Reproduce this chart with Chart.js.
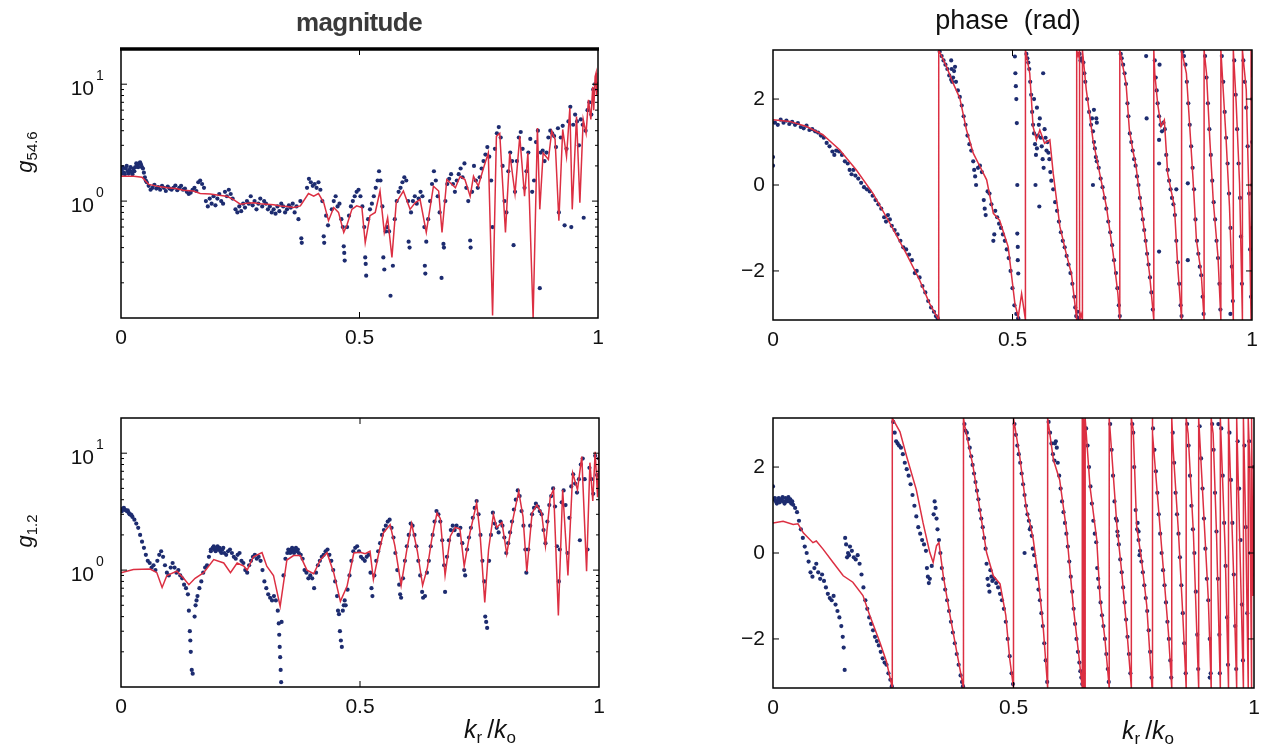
<!DOCTYPE html>
<html><head><meta charset="utf-8">
<script src="https://cdn.jsdelivr.net/npm/chart.js@4.4.1/dist/chart.umd.min.js"></script>
<style>
html,body{margin:0;padding:0;background:#fff;width:1270px;height:750px;overflow:hidden;font-family:"Liberation Sans",Arial,sans-serif;}
canvas{position:absolute;}
.t{position:absolute;white-space:nowrap;color:#111;line-height:1;}
.t sub{font-size:0.68em;vertical-align:-0.32em;line-height:0;}
.rot{transform:translate(-50%,-50%) rotate(-90deg);}
</style></head><body>
<canvas id="c1"></canvas><canvas id="c2"></canvas><canvas id="c3"></canvas><canvas id="c4"></canvas>
<div class="t" style="left:0;width:718px;text-align:center;top:9px;font-weight:bold;font-size:26px;color:#3a3a3a;letter-spacing:-0.6px">magnitude</div>
<div class="t" style="left:766px;width:484px;text-align:center;top:7px;font-size:27px">phase&nbsp;&nbsp;(rad)</div>
<div class="t rot" style="left:25px;top:152px;font-size:22px"><i>g</i><sub>54.6</sub></div>
<div class="t rot" style="left:25px;top:531px;font-size:22px"><i>g</i><sub>1.2</sub></div>
<div class="t" style="left:490px;top:729px;transform:translate(-50%,-50%);font-size:25px"><i>k</i><sub>r</sub>&thinsp;/<i>k</i><sub>o</sub></div>
<div class="t" style="left:1148px;top:730px;transform:translate(-50%,-50%);font-size:25px"><i>k</i><sub>r</sub>&thinsp;/<i>k</i><sub>o</sub></div>
<script>
// ---------- data ----------
const X_TICKS = [0, 0.5, 1];
const LOG_MAJOR = [1, 10];
const LOG_MAJOR_LABELS = ['0', '1'];
const LOG_MINOR = [0.2,0.3,0.4,0.5,0.6,0.7,0.8,0.9,2,3,4,5,6,7,8,9];
const PHASE_TICKS = [-2, 0, 2];

const TL_LINE = [[0.000,1.63],[0.027,1.63],[0.044,1.60],[0.058,1.39],[0.080,1.33],[0.097,1.30],[0.115,1.28],[0.131,1.24],[0.152,1.22],[0.166,1.16],[0.187,1.15],[0.205,1.12],[0.222,1.10],[0.236,1.03],[0.250,0.94],[0.264,0.96],[0.278,0.97],[0.292,0.95],[0.306,0.94],[0.320,0.93],[0.334,0.91],[0.348,0.90],[0.362,0.88],[0.376,0.91],[0.393,1.16],[0.404,1.10],[0.414,1.16],[0.425,0.97],[0.435,0.68],[0.446,0.88],[0.456,0.80],[0.467,0.54],[0.474,0.63],[0.484,0.85],[0.494,0.91],[0.505,0.88],[0.512,0.44],[0.522,0.75],[0.533,0.80],[0.543,1.22],[0.552,0.54],[0.559,0.72],[0.568,0.33],[0.577,0.97],[0.592,1.22],[0.606,0.85],[0.617,0.97],[0.627,1.03],[0.640,0.54],[0.655,1.34],[0.666,1.22],[0.673,0.54],[0.683,1.53],[0.701,1.30],[0.711,1.63],[0.721,1.53],[0.732,1.10],[0.739,1.63],[0.749,1.34],[0.760,1.92],[0.770,2.58],[0.779,0.105],[0.787,3.58],[0.794,3.80],[0.806,0.54],[0.815,2.58],[0.826,1.16],[0.836,3.58],[0.846,1.10],[0.853,2.58],[0.864,0.10],[0.873,4.22],[0.878,0.85],[0.885,2.58],[0.896,2.27],[0.903,3.96],[0.910,3.39],[0.918,0.68],[0.926,4.10],[0.934,2.40],[0.941,6.24],[0.946,0.85],[0.955,5.30],[0.962,0.97],[0.969,5.00],[0.975,3.80],[0.980,7.35],[0.985,5.00],[0.989,9.50],[0.991,6.0],[0.994,11.6],[0.996,12.5],[0.997,8.0],[1.000,10.5]];

const TL_DOTS = [[0.000,1.7],[0.004,1.95],[0.008,1.7],[0.012,2.0],[0.016,1.72],[0.020,1.95],[0.024,1.7],[0.028,1.8],[0.032,2.1],[0.036,1.95],[0.040,2.15],[0.044,1.95],[0.048,1.75],[0.052,1.5],
[0.002,1.85],[0.006,1.75],[0.010,1.9],[0.014,1.8],[0.018,1.85],[0.022,1.78],[0.026,1.9],[0.030,1.95],[0.034,2.05],[0.038,2.1],[0.042,2.05],[0.046,1.9],[0.050,1.6],[0.054,1.45],[0.058,1.35],[0.062,1.25],[0.066,1.3],[0.070,1.38],[0.074,1.28],[0.078,1.32],[0.082,1.25],[0.086,1.35],[0.090,1.3],[0.094,1.22],[0.098,1.33],[0.102,1.28],[0.106,1.25],[0.110,1.3],[0.114,1.36],[0.118,1.24],[0.122,1.3],[0.126,1.35],[0.130,1.25],[0.134,1.28],[0.138,1.2],[0.142,1.15],[0.146,1.18],[0.150,1.25],[0.154,1.3],[0.158,1.22],[0.162,1.45],[0.166,1.5],[0.170,1.4],[0.174,1.3],[0.178,1.0],[0.182,0.9],[0.186,1.05],[0.190,0.95],[0.194,1.1],[0.198,0.92],[0.202,1.05],[0.206,1.15],[0.210,1.0],[0.214,0.95],[0.218,1.2],[0.222,1.1],[0.226,1.25],[0.230,1.15],[0.234,1.05],[0.240,0.85],[0.244,0.8],[0.248,0.9],[0.252,0.82],[0.256,0.95],[0.260,0.88],[0.264,1.0],[0.268,0.95],[0.272,1.1],[0.276,0.92],[0.280,1.0],[0.284,0.85],[0.288,0.95],[0.292,1.05],[0.296,0.9],[0.300,1.0],[0.304,0.95],[0.308,0.85],[0.312,0.9],[0.316,0.8],[0.320,0.85],[0.324,0.78],[0.328,0.9],[0.332,0.82],[0.336,0.95],[0.340,0.9],[0.344,0.8],[0.348,0.85],[0.352,0.92],[0.356,0.88],[0.360,0.95],[0.364,0.8],[0.368,0.9],[0.372,0.7],[0.376,1.0],[0.378,0.48],[0.379,0.44],[0.390,1.3],[0.394,1.55],[0.398,1.45],[0.402,1.35],[0.406,1.4],[0.410,1.3],[0.414,1.45],[0.418,1.25],[0.422,1.0],[0.425,0.5],[0.426,0.44],[0.430,0.75],[0.434,0.62],[0.442,0.85],[0.446,1.0],[0.450,1.1],[0.454,0.9],[0.458,0.95],[0.462,0.7],[0.465,0.6],[0.467,0.41],[0.468,0.36],[0.469,0.31],[0.474,0.6],[0.478,0.75],[0.482,0.9],[0.486,1.0],[0.490,1.1],[0.494,1.2],[0.498,1.25],[0.502,1.1],[0.506,0.9],[0.510,0.6],[0.512,0.33],[0.513,0.29],[0.514,0.23],[0.518,0.7],[0.522,0.85],[0.526,0.95],[0.530,1.1],[0.534,1.3],[0.538,1.5],[0.541,1.8],[0.544,1.5],[0.548,0.9],[0.550,0.33],[0.552,0.26],[0.555,0.55],[0.558,0.6],[0.562,0.55],[0.565,0.155],[0.570,0.28],[0.574,0.7],[0.578,1.0],[0.582,1.2],[0.586,1.3],[0.590,1.45],[0.594,1.6],[0.598,1.5],[0.602,1.0],[0.603,0.45],[0.605,0.4],[0.608,0.8],[0.612,1.0],[0.616,1.1],[0.620,0.95],[0.624,1.05],[0.628,1.2],[0.632,1.1],[0.636,0.6],[0.637,0.28],[0.638,0.24],[0.640,0.45],[0.644,0.7],[0.648,1.0],[0.652,1.4],[0.656,1.8],[0.660,1.5],[0.664,1.1],[0.668,0.8],[0.672,0.22],[0.676,0.43],[0.677,0.4],[0.680,1.0],[0.684,1.4],[0.688,1.55],[0.692,1.7],[0.696,1.4],[0.700,1.2],[0.704,1.5],[0.708,1.7],[0.712,1.9],[0.716,1.6],[0.720,2.1],[0.724,1.3],[0.728,1.0],[0.732,0.46],[0.733,0.40],[0.736,1.2],[0.740,2.0],[0.744,1.5],[0.748,1.3],[0.752,1.6],[0.756,1.9],[0.760,2.2],[0.764,2.5],[0.768,2.9],[0.772,2.4],[0.776,1.5],[0.779,0.6],[0.784,2.8],[0.788,3.8],[0.792,4.3],[0.796,3.5],[0.800,2.0],[0.804,1.0],[0.808,0.8],[0.812,1.8],[0.816,2.6],[0.820,2.2],[0.823,0.42],[0.826,1.2],[0.830,2.2],[0.834,3.5],[0.838,3.9],[0.842,2.8],[0.846,1.3],[0.850,1.8],[0.854,2.6],[0.858,3.4],[0.862,1.2],[0.866,1.5],[0.870,3.2],[0.874,4.0],[0.878,0.18],[0.880,2.6],[0.884,2.7],[0.888,2.2],[0.892,2.6],[0.896,3.5],[0.900,4.0],[0.904,3.8],[0.908,3.6],[0.912,2.9],[0.916,4.2],[0.918,0.8],[0.922,3.5],[0.926,4.4],[0.930,0.62],[0.934,2.8],[0.938,4.8],[0.942,6.4],[0.944,0.6],[0.948,4.5],[0.952,5.5],[0.956,4.8],[0.960,3.0],[0.964,5.0],[0.968,4.5],[0.970,0.72],[0.974,4.0],[0.978,6.0],[0.982,7.0],[0.986,5.5],[0.990,9.0],[0.994,10],[0.998,9.0]];

const TR_LINE = [[0.000,1.52],[0.035,1.48],[0.070,1.36],[0.104,1.17],[0.139,0.82],[0.174,0.35],[0.209,-0.20],[0.244,-0.89],[0.278,-1.59],[0.306,-2.21],[0.327,-2.76],[0.346,-3.14],[0.346,3.14],[0.362,2.76],[0.376,2.37],[0.390,2.02],[0.404,1.28],[0.418,0.74],[0.432,0.43],[0.446,0.12],[0.460,-0.66],[0.473,-0.82],[0.491,-1.44],[0.505,-2.76],[0.512,-3.07],[0.519,-2.53],[0.527,-3.14],[0.527,3.14],[0.536,2.60],[0.543,1.36],[0.550,1.05],[0.557,1.28],[0.567,0.97],[0.578,1.05],[0.585,0.27],[0.599,-0.97],[0.612,-1.59],[0.623,-2.06],[0.634,-3.14],[0.634,3.14],[0.637,3.0],[0.640,3.14],[0.640,-3.14],[0.643,-3.0],[0.646,-3.14],[0.646,3.14],[0.654,2.22],[0.668,1.05],[0.682,0.27],[0.696,-0.50],[0.710,-1.59],[0.720,-2.53],[0.724,-3.14],[0.724,3.14],[0.737,2.37],[0.744,1.28],[0.751,0.82],[0.758,0.43],[0.765,-0.20],[0.776,-1.13],[0.786,-2.06],[0.795,-3.14],[0.795,3.14],[0.797,2.6],[0.803,1.90],[0.810,1.36],[0.817,1.51],[0.824,0.27],[0.831,-0.12],[0.838,-0.50],[0.845,-1.90],[0.853,-3.14],[0.853,3.14],[0.863,2.60],[0.870,1.36],[0.877,0.12],[0.884,-1.28],[0.894,-2.06],[0.900,-3.14],[0.900,3.14],[0.905,2.60],[0.912,1.05],[0.919,-0.35],[0.929,-1.67],[0.935,-3.14],[0.935,3.14],[0.946,1.05],[0.953,-0.50],[0.961,-3.14],[0.961,3.14],[0.967,1.90],[0.974,0.04],[0.980,-3.14],[0.980,3.14],[0.988,2.22],[0.994,-0.50],[0.998,-3.14],[0.998,3.14],[1.000,2.5]];

const TR_DOTS = [[0.000,0.65],[0.000,0.45],[0.004,1.45],[0.010,1.40],[0.016,1.52],[0.022,1.45],[0.028,1.50],[0.034,1.42],[0.040,1.47],[0.046,1.40],[0.052,1.44],[0.058,1.35],[0.064,1.32],[0.070,1.38],[0.076,1.28],[0.082,1.30],[0.088,1.25],[0.094,1.22],[0.100,1.15],[0.106,1.10],[0.112,0.98],[0.118,0.90],[0.124,0.78],[0.128,0.70],[0.132,0.80],[0.138,0.78],[0.144,0.70],[0.150,0.55],[0.156,0.50],[0.160,0.35],[0.164,0.25],[0.168,0.35],[0.172,0.22],[0.178,0.15],[0.184,0.05],[0.190,-0.05],[0.196,-0.10],[0.202,-0.15],[0.208,-0.25],[0.214,-0.35],[0.220,-0.45],[0.226,-0.55],[0.232,-0.75],[0.236,-0.85],[0.240,-0.70],[0.244,-0.80],[0.248,-0.95],[0.254,-1.05],[0.260,-1.15],[0.266,-1.30],[0.272,-1.45],[0.278,-1.50],[0.284,-1.62],[0.290,-1.75],[0.296,-2.05],[0.300,-2.00],[0.306,-2.15],[0.312,-2.35],[0.318,-2.50],[0.324,-2.70],[0.330,-2.85],[0.336,-2.95],[0.340,-3.05],[0.344,-3.10],
[0.348,3.10],[0.352,3.0],[0.356,2.9],[0.360,2.8],[0.364,2.7],[0.368,2.55],[0.372,2.45],[0.376,2.50],[0.378,2.65],[0.380,2.75],[0.382,2.40],[0.386,2.20],[0.390,2.05],[0.394,1.85],[0.398,1.60],[0.402,1.40],[0.406,1.15],[0.410,0.95],[0.414,0.80],[0.418,0.55],[0.420,0.35],[0.422,0.20],[0.424,0.00],[0.428,0.40],[0.432,0.45],[0.436,0.30],[0.440,-0.35],[0.442,-0.55],[0.444,-0.70],[0.448,-0.15],[0.452,-0.20],[0.456,-0.45],[0.460,-1.30],[0.462,-1.15],[0.464,-0.60],[0.468,-0.75],[0.472,-0.90],[0.476,-1.00],[0.480,-1.15],[0.484,-1.30],[0.488,-1.50],[0.492,-1.70],[0.496,-2.00],[0.500,-2.40],[0.504,-2.80],[0.508,-3.00],[0.512,-3.10],
[0.505,2.99],[0.506,2.6],[0.507,2.3],[0.508,2.0],[0.509,1.44],[0.510,0.0],[0.510,-1.13],[0.511,-1.44],[0.511,-1.75],[0.512,-2.06],[0.372,2.9],[0.373,2.7],[0.374,2.4],
[0.529,3.05],[0.531,2.95],[0.533,2.85],[0.535,2.70],[0.537,2.40],[0.539,2.10],[0.541,1.70],[0.543,1.40],[0.545,1.20],[0.547,0.95],[0.549,0.70],[0.551,0.85],[0.553,1.15],[0.555,1.40],[0.557,1.55],[0.559,1.10],[0.561,0.90],[0.563,0.60],[0.565,0.40],[0.567,1.30],[0.569,1.10],[0.571,0.80],[0.573,1.00],[0.575,0.75],[0.577,0.60],[0.579,0.30],[0.581,0.10],[0.585,-0.10],[0.589,-0.40],[0.593,-0.60],[0.597,-0.85],[0.601,-1.10],[0.605,-1.30],[0.609,-1.45],[0.613,-1.65],[0.617,-1.85],[0.621,-2.05],[0.625,-2.30],[0.629,-2.60],[0.631,-2.85],[0.633,-3.05],[0.636,-2.95],[0.638,-3.10],[0.640,3.05],[0.642,2.90],[0.644,2.95],[0.564,2.6],[0.548,0.0],[0.556,-0.5],[0.545,2.0],[0.551,1.8],
[0.648,2.85],[0.650,2.6],[0.652,2.4],[0.656,2.0],[0.660,1.7],[0.664,1.4],[0.666,1.55],[0.668,1.25],[0.670,1.0],[0.672,0.85],[0.674,0.65],[0.676,0.55],[0.680,0.40],[0.684,0.15],[0.688,-0.05],[0.692,-0.30],[0.696,-0.55],[0.700,-0.85],[0.704,-1.10],[0.708,-1.40],[0.712,-1.75],[0.716,-2.05],[0.719,-2.40],[0.722,-2.80],[0.724,-3.05],[0.675,1.55],[0.676,1.45],[0.670,1.75],[0.668,0.0],
[0.726,3.05],[0.728,2.95],[0.731,2.8],[0.734,2.6],[0.737,2.35],[0.740,1.9],[0.742,1.6],[0.745,1.2],[0.748,1.0],[0.751,0.8],[0.754,0.6],[0.757,0.45],[0.760,0.2],[0.763,0.0],[0.766,-0.3],[0.769,-0.55],[0.772,-0.8],[0.775,-1.05],[0.778,-1.3],[0.781,-1.6],[0.784,-1.85],[0.787,-2.15],[0.790,-2.5],[0.793,-2.9],[0.779,3.0],[0.780,1.55],[0.807,2.8],[0.806,1.05],[0.806,0.5],[0.806,-1.55],
[0.797,2.9],[0.799,2.5],[0.801,2.2],[0.803,1.9],[0.806,1.6],[0.809,1.4],[0.812,1.25],[0.815,1.45],[0.818,1.3],[0.821,0.7],[0.824,0.35],[0.827,0.1],[0.830,-0.1],[0.833,-0.3],[0.836,-0.45],[0.839,-0.7],[0.842,-1.3],[0.845,-1.8],[0.848,-2.3],[0.851,-2.8],[0.853,-3.05],[0.842,-0.1],[0.866,0.04],[0.866,-1.75],
[0.855,3.1],[0.858,3.0],[0.861,2.8],[0.864,2.4],[0.867,1.9],[0.870,1.4],[0.873,0.9],[0.876,0.4],[0.879,-0.1],[0.882,-0.8],[0.885,-1.3],[0.888,-1.6],[0.891,-1.9],[0.894,-2.1],[0.897,-2.6],[0.899,-3.0],
[0.902,3.0],[0.905,2.5],[0.908,1.9],[0.911,1.3],[0.914,0.7],[0.917,0.1],[0.920,-0.4],[0.923,-0.8],[0.926,-1.3],[0.929,-1.7],[0.932,-2.3],[0.934,-2.9],
[0.937,3.0],[0.940,2.4],[0.943,1.7],[0.946,1.1],[0.949,0.5],[0.952,-0.2],[0.955,-1.0],[0.958,-1.9],[0.960,-2.7],[0.955,-3.0],
[0.963,2.9],[0.966,2.1],[0.969,1.3],[0.972,0.5],[0.975,-0.3],[0.977,-1.2],[0.979,-2.3],
[0.982,2.9],[0.985,2.4],[0.988,1.8],[0.991,0.9],[0.994,-0.2],[0.996,-1.5],[0.998,-2.6],[1.000,2.0],[1.000,1.0],[1.000,0.0],[1.000,-1.0]];

const BL_LINE = [[0.000,0.95],[0.026,1.01],[0.061,1.02],[0.075,0.95],[0.086,0.71],[0.096,0.90],[0.117,0.98],[0.131,0.85],[0.142,0.75],[0.155,0.85],[0.173,0.95],[0.194,1.23],[0.215,1.15],[0.229,0.95],[0.243,1.15],[0.257,1.08],[0.264,1.00],[0.277,1.30],[0.295,1.41],[0.305,1.08],[0.319,0.90],[0.333,0.49],[0.347,1.22],[0.361,1.33],[0.375,1.33],[0.389,1.00],[0.403,0.93],[0.417,1.22],[0.431,1.41],[0.445,0.95],[0.459,0.54],[0.473,0.73],[0.487,1.40],[0.500,1.42],[0.511,1.38],[0.521,1.45],[0.528,0.83],[0.539,1.38],[0.549,2.08],[0.563,2.45],[0.573,1.61],[0.586,0.74],[0.598,1.50],[0.608,2.50],[0.620,1.45],[0.631,0.74],[0.641,1.05],[0.650,1.82],[0.661,3.08],[0.668,2.76],[0.678,0.90],[0.689,1.95],[0.699,2.32],[0.709,2.25],[0.718,1.08],[0.730,2.08],[0.744,3.75],[0.751,2.08],[0.761,0.53],[0.769,1.50],[0.779,2.98],[0.786,2.32],[0.797,2.55],[0.807,1.38],[0.818,2.50],[0.832,4.71],[0.841,2.87],[0.849,0.97],[0.860,3.08],[0.870,3.60],[0.880,3.08],[0.888,1.61],[0.898,4.20],[0.905,4.90],[0.915,0.41],[0.924,4.87],[0.935,0.90],[0.945,6.76],[0.955,4.87],[0.964,9.35],[0.974,0.98],[0.981,8.30],[0.987,3.90],[0.992,10.3],[0.997,4.2],[1.000,10.0]];

const BL_DOTS = [[0.002,3.2],[0.006,3.4],[0.010,3.25],[0.014,3.25],[0.018,3.0],[0.022,2.95],[0.188,1.5],[0.194,1.6],[0.198,1.45],[0.202,1.6],[0.206,1.55],[0.210,1.4],[0.214,1.55],[0.350,1.5],[0.354,1.4],[0.358,1.55],[0.362,1.4],[0.366,1.55],[0.370,1.5],
[0.000,3.3],[0.004,3.35],[0.008,3.3],[0.012,3.2],[0.016,3.1],[0.020,3.0],[0.024,2.85],[0.028,2.7],[0.032,2.5],[0.036,2.3],[0.040,2.0],[0.044,1.75],[0.048,1.55],[0.052,1.35],[0.056,1.2],[0.060,1.15],[0.064,1.05],[0.068,1.1],[0.072,1.0],[0.076,1.2],[0.080,1.35],[0.084,1.45],[0.088,1.3],[0.092,1.1],[0.096,0.95],[0.100,0.9],[0.104,1.05],[0.108,1.15],[0.112,1.05],[0.116,0.95],[0.120,1.0],[0.124,0.9],[0.128,0.85],[0.132,0.75],[0.136,0.7],[0.140,0.62],[0.142,0.45],[0.144,0.3],[0.145,0.25],[0.146,0.2],[0.148,0.14],[0.150,0.13],[0.154,0.4],[0.156,0.5],[0.158,0.55],[0.160,0.6],[0.164,0.7],[0.168,0.8],[0.172,0.95],[0.176,1.05],[0.180,1.1],[0.184,1.3],[0.188,1.45],[0.192,1.55],[0.196,1.5],[0.200,1.55],[0.204,1.5],[0.208,1.45],[0.212,1.5],[0.216,1.4],[0.220,1.35],[0.224,1.45],[0.228,1.5],[0.232,1.4],[0.236,1.3],[0.240,1.25],[0.244,1.35],[0.248,1.4],[0.252,1.2],[0.256,1.15],[0.260,1.0],[0.264,0.95],[0.268,1.1],[0.272,1.2],[0.276,1.3],[0.280,1.35],[0.284,1.25],[0.288,1.3],[0.292,1.2],[0.296,1.0],[0.300,0.8],[0.304,0.7],[0.308,0.62],[0.312,0.58],[0.316,0.55],[0.320,0.6],[0.324,0.55],[0.328,0.45],[0.330,0.35],[0.331,0.28],[0.332,0.22],[0.333,0.18],[0.334,0.14],[0.335,0.11],[0.336,0.36],[0.340,0.9],[0.344,1.25],[0.348,1.4],[0.352,1.45],[0.356,1.5],[0.360,1.45],[0.364,1.5],[0.368,1.45],[0.372,1.4],[0.376,1.35],[0.380,1.25],[0.384,1.0],[0.388,0.95],[0.392,0.85],[0.396,0.9],[0.400,0.85],[0.404,0.7],[0.408,0.95],[0.412,1.1],[0.416,1.2],[0.420,1.3],[0.424,1.35],[0.428,1.45],[0.432,1.5],[0.436,1.35],[0.440,1.2],[0.444,1.0],[0.448,0.8],[0.452,0.6],[0.454,0.45],[0.456,0.42],[0.458,0.3],[0.460,0.25],[0.462,0.22],[0.464,0.45],[0.466,0.5],[0.468,0.55],[0.470,0.5],[0.474,0.68],[0.478,0.9],[0.482,1.2],[0.486,1.45],[0.490,1.55],[0.494,1.6],[0.498,1.45],[0.502,1.3],[0.506,1.25],[0.510,1.2],[0.514,1.3],[0.518,1.35],[0.522,0.95],[0.524,0.7],[0.526,0.6],[0.530,0.9],[0.534,1.2],[0.538,1.45],[0.542,1.7],[0.546,2.0],[0.550,2.2],[0.554,2.4],[0.558,2.6],[0.562,2.7],[0.566,2.3],[0.570,1.9],[0.574,1.4],[0.578,1.0],[0.582,0.75],[0.584,0.62],[0.586,0.58],[0.590,0.85],[0.594,1.2],[0.598,1.6],[0.602,2.0],[0.606,2.5],[0.610,2.4],[0.614,2.0],[0.618,1.6],[0.622,1.2],[0.626,0.9],[0.630,0.65],[0.632,0.58],[0.636,0.6],[0.640,0.95],[0.644,1.2],[0.648,1.6],[0.652,2.0],[0.656,2.6],[0.660,3.2],[0.664,3.0],[0.668,2.6],[0.672,1.8],[0.676,1.1],[0.678,0.65],[0.682,1.3],[0.686,1.8],[0.690,2.2],[0.694,2.4],[0.698,2.2],[0.702,2.4],[0.706,2.0],[0.710,2.3],[0.714,1.7],[0.718,1.0],[0.720,0.9],[0.724,1.5],[0.728,1.9],[0.732,2.3],[0.736,2.8],[0.740,3.4],[0.744,3.9],[0.748,3.0],[0.752,2.0],[0.756,1.2],[0.760,0.8],[0.762,0.4],[0.764,0.36],[0.766,0.32],[0.770,1.2],[0.774,2.0],[0.778,3.1],[0.782,2.5],[0.786,2.3],[0.790,2.1],[0.794,2.6],[0.798,2.4],[0.802,1.9],[0.806,1.4],[0.810,1.7],[0.814,2.1],[0.818,2.6],[0.822,3.3],[0.826,4.0],[0.830,4.8],[0.834,4.3],[0.838,3.2],[0.842,2.4],[0.846,1.5],[0.848,0.95],[0.852,1.5],[0.856,2.4],[0.860,3.0],[0.864,3.4],[0.868,3.7],[0.872,3.5],[0.876,3.2],[0.880,3.0],[0.884,2.2],[0.888,1.7],[0.892,2.6],[0.896,3.6],[0.900,4.3],[0.904,5.0],[0.908,3.5],[0.912,1.6],[0.916,0.8],[0.918,1.5],[0.922,3.8],[0.926,4.8],[0.930,3.6],[0.934,1.4],[0.938,2.8],[0.942,5.2],[0.946,6.6],[0.950,5.5],[0.954,4.6],[0.958,6.0],[0.960,1.8],[0.962,8.0],[0.966,9.0],[0.970,6.0],[0.976,1.5],[0.980,7.5],[0.984,6.0],[0.988,4.5],[0.992,9.5],[0.996,6.5],[1.000,9.0]];

const BR_LINE = [[0.000,0.70],[0.021,0.74],[0.042,0.665],[0.052,0.68],[0.063,0.47],[0.083,0.24],[0.090,0.28],[0.104,0.09],[0.125,-0.22],[0.146,-0.53],[0.166,-0.68],[0.187,-0.99],[0.201,-1.45],[0.222,-2.07],[0.236,-2.53],[0.248,-3.14],[0.248,3.14],[0.264,2.82],[0.278,2.24],[0.298,1.47],[0.312,0.70],[0.326,0.01],[0.333,-0.22],[0.340,0.17],[0.345,0.24],[0.354,-0.53],[0.368,-1.45],[0.382,-2.30],[0.396,-3.14],[0.396,3.14],[0.399,2.94],[0.416,2.01],[0.430,1.01],[0.444,0.01],[0.458,-0.53],[0.472,-0.72],[0.484,-1.45],[0.492,-2.45],[0.500,-3.14],[0.500,3.14],[0.513,2.24],[0.527,1.01],[0.534,0.70],[0.541,0.32],[0.551,-0.53],[0.562,-1.76],[0.571,-3.14],[0.571,3.14],[0.583,2.17],[0.596,1.70],[0.610,0.55],[0.624,-1.22],[0.635,-2.30],[0.643,-3.14],[0.643,3.14],[0.646,3.1],[0.646,-3.14],[0.648,-2.9],[0.649,-3.14],[0.649,3.14],[0.659,1.55],[0.673,0.32],[0.680,-1.07],[0.690,-1.99],[0.699,-3.14],[0.699,3.14],[0.715,0.63],[0.725,-0.45],[0.736,-1.84],[0.745,-3.14],[0.745,3.14],[0.749,2.86],[0.756,0.63],[0.766,-0.14],[0.777,-1.22],[0.788,-3.14],[0.788,3.14],[0.790,2.78],[0.800,1.24],[0.811,-0.30],[0.822,-1.84],[0.829,-3.14],[0.829,3.14],[0.832,2.40],[0.843,0.47],[0.852,-1.45],[0.859,-3.14],[0.859,3.14],[0.863,2.78],[0.874,0.47],[0.885,-3.14],[0.885,3.14],[0.894,1.24],[0.905,-1.07],[0.911,-3.14],[0.911,3.14],[0.915,2.78],[0.922,0.47],[0.930,-3.14],[0.930,3.14],[0.940,0.09],[0.947,-3.14],[0.947,3.14],[0.957,-0.30],[0.964,-3.14],[0.964,3.14],[0.971,0.0],[0.978,-3.14],[0.978,3.14],[0.983,0.5],[0.988,-3.14],[0.988,3.14],[0.991,2.2],[0.995,-3.14],[0.995,3.14],[0.998,-1.0],[1.000,2.0]];

const BR_DOTS = [[0.004,1.28],[0.008,1.15],[0.012,1.28],[0.016,1.22],[0.020,1.3],[0.024,1.15],[0.028,1.2],[0.032,1.3],[0.036,1.25],[0.040,1.2],
[0.000,1.55],[0.002,1.25],[0.006,1.2],[0.010,1.22],[0.014,1.18],[0.018,1.25],[0.022,1.2],[0.026,1.28],[0.030,1.25],[0.034,1.2],[0.038,1.15],[0.042,1.12],[0.046,1.05],[0.050,0.95],[0.054,0.75],[0.058,0.55],[0.062,0.35],[0.066,0.15],[0.070,0.0],[0.074,-0.2],[0.078,-0.45],[0.082,-0.55],[0.086,-0.35],[0.090,-0.25],[0.094,-0.45],[0.098,-0.6],[0.102,-0.5],[0.106,-0.65],[0.110,-0.8],[0.114,-0.95],[0.118,-1.05],[0.122,-1.1],[0.126,-1.0],[0.130,-1.2],[0.134,-1.35],[0.138,-1.5],[0.142,-1.7],[0.145,-1.95],[0.147,-2.2],[0.149,-2.72],[0.150,0.35],[0.152,0.2],[0.154,-0.1],[0.156,0.0],[0.158,-0.05],[0.160,0.15],[0.164,0.05],[0.168,-0.1],[0.172,-0.15],[0.176,-0.05],[0.180,-0.25],[0.184,-0.5],[0.188,-0.8],[0.192,-1.1],[0.196,-1.3],[0.200,-1.5],[0.204,-1.65],[0.208,-1.8],[0.212,-1.95],[0.216,-2.05],[0.220,-2.15],[0.224,-2.3],[0.228,-2.45],[0.232,-2.55],[0.236,-2.6],[0.240,-2.8],[0.244,-2.95],[0.247,-3.1],
[0.250,3.05],[0.253,2.8],[0.256,2.6],[0.259,2.55],[0.262,2.5],[0.266,2.45],[0.270,2.3],[0.274,2.1],[0.278,1.95],[0.282,1.8],[0.286,1.6],[0.290,1.35],[0.294,1.1],[0.298,0.85],[0.302,0.6],[0.306,0.45],[0.310,0.3],[0.314,0.2],[0.318,0.05],[0.320,-0.35],[0.322,-0.55],[0.324,-0.7],[0.326,-0.6],[0.330,-0.3],[0.334,0.9],[0.336,1.2],[0.338,1.05],[0.340,0.8],[0.342,0.55],[0.345,0.3],[0.348,0.0],[0.351,-0.35],[0.354,-0.6],[0.358,-0.85],[0.362,-1.1],[0.366,-1.35],[0.370,-1.6],[0.374,-1.85],[0.378,-2.1],[0.382,-2.35],[0.386,-2.6],[0.390,-2.85],[0.393,-3.0],[0.395,-3.1],
[0.398,3.0],[0.400,2.85],[0.403,2.8],[0.406,2.65],[0.409,2.45],[0.412,2.25],[0.415,2.05],[0.418,1.85],[0.421,1.65],[0.424,1.45],[0.427,1.25],[0.430,1.0],[0.433,0.8],[0.436,0.6],[0.439,0.35],[0.442,0.1],[0.444,-0.25],[0.446,-0.6],[0.448,-0.75],[0.450,-0.9],[0.452,-0.4],[0.454,-0.55],[0.456,-0.65],[0.460,-0.6],[0.464,-0.7],[0.468,-0.8],[0.472,-0.95],[0.476,-1.1],[0.480,-1.3],[0.484,-1.6],[0.488,-2.0],[0.492,-2.4],[0.496,-2.8],[0.499,-3.05],
[0.502,3.0],[0.505,2.75],[0.508,2.5],[0.511,2.3],[0.514,2.1],[0.517,1.85],[0.520,1.6],[0.523,1.35],[0.526,1.1],[0.529,0.9],[0.532,0.75],[0.534,0.55],[0.536,0.6],[0.538,0.4],[0.540,0.1],[0.543,-0.05],[0.546,-0.3],[0.549,-0.6],[0.552,-0.85],[0.555,-1.1],[0.558,-1.4],[0.561,-1.7],[0.564,-2.1],[0.567,-2.5],[0.570,-3.0],[0.523,0.0],
[0.573,3.05],[0.576,2.8],[0.579,2.55],[0.582,2.3],[0.585,2.15],[0.586,2.55],[0.588,2.6],[0.590,2.45],[0.592,2.1],[0.595,1.8],[0.598,1.5],[0.601,1.2],[0.604,0.95],[0.607,0.7],[0.610,0.45],[0.613,0.15],[0.616,-0.2],[0.619,-0.55],[0.622,-0.9],[0.625,-1.3],[0.628,-1.65],[0.631,-2.0],[0.634,-2.3],[0.637,-2.55],[0.639,-2.75],[0.641,-2.9],[0.643,-3.05],[0.645,-2.8],
[0.651,2.9],[0.654,2.5],[0.657,2.0],[0.660,1.55],[0.663,1.15],[0.666,0.75],[0.669,0.45],[0.672,0.25],[0.674,-0.35],[0.676,-0.6],[0.678,-0.8],[0.681,-1.15],[0.684,-1.45],[0.687,-1.7],[0.690,-2.0],[0.693,-2.35],[0.696,-2.7],[0.698,-3.0],
[0.701,3.0],[0.704,2.4],[0.707,1.8],[0.710,1.2],[0.713,0.8],[0.716,0.5],[0.719,0.2],[0.722,-0.15],[0.725,-0.45],[0.728,-0.8],[0.731,-1.15],[0.734,-1.55],[0.737,-1.95],[0.740,-2.35],[0.743,-2.8],[0.715,0.75],[0.717,0.4],
[0.747,3.0],[0.749,2.8],[0.751,2.0],[0.754,1.0],[0.757,0.55],[0.760,0.3],[0.763,0.05],[0.766,-0.2],[0.769,-0.45],[0.772,-0.75],[0.775,-1.05],[0.778,-1.35],[0.781,-1.8],[0.784,-2.3],[0.787,-2.9],[0.758,0.7],[0.760,0.5],[0.762,-0.05],
[0.790,2.9],[0.793,2.4],[0.796,1.9],[0.799,1.4],[0.802,0.9],[0.805,0.45],[0.808,0.0],[0.811,-0.4],[0.814,-0.75],[0.817,-1.15],[0.820,-1.6],[0.823,-2.0],[0.826,-2.5],[0.828,-2.9],
[0.831,2.8],[0.834,2.1],[0.837,1.4],[0.840,0.9],[0.843,0.45],[0.846,-0.1],[0.849,-0.75],[0.852,-1.4],[0.855,-2.1],[0.858,-2.8],
[0.861,3.0],[0.864,2.5],[0.867,1.8],[0.870,1.1],[0.873,0.55],[0.876,0.0],[0.879,-0.9],[0.882,-1.9],[0.884,-2.7],
[0.887,2.95],[0.890,2.2],[0.893,1.5],[0.896,0.8],[0.899,0.1],[0.902,-0.6],[0.905,-1.1],[0.908,-2.0],[0.910,-2.8],[0.908,-2.9],
[0.913,3.0],[0.916,2.4],[0.919,1.4],[0.922,0.5],[0.925,-0.6],[0.928,-1.9],[0.929,-2.8],[0.926,3.0],
[0.932,2.9],[0.935,1.8],[0.938,0.7],[0.941,-0.3],[0.944,-1.5],[0.946,-2.6],
[0.949,2.8],[0.952,1.7],[0.955,0.7],[0.958,-0.5],[0.961,-1.7],[0.963,-2.7],
[0.966,2.6],[0.969,1.5],[0.972,0.3],[0.975,-1.2],[0.977,-2.5],
[0.980,2.5],[0.983,0.6],[0.986,-1.4],[0.990,2.6],[0.993,0.0],[0.997,2.0],[1.000,-0.5]];

// ---------- rendering ----------
const RED = '#dc2f42', BLUE = '#1d2c70';
Chart.defaults.font.family = "'Liberation Sans', Arial, sans-serif";
Chart.defaults.font.size = 21;
Chart.defaults.color = '#111';

const toXY = arr => arr.map(p => ({x: p[0], y: p[1]}));

const framePlugin = {
  id: 'frame',
  afterDatasetsDraw(chart, args, o) {
    const {ctx, chartArea: a, scales: {x, y}} = chart;
    ctx.save();
    ctx.strokeStyle = '#000';
    ctx.lineWidth = 1;
    ctx.beginPath();
    X_TICKS.forEach(v => {
      if (v > 0 && v < 1) {
        const px = x.getPixelForValue(v);
        ctx.moveTo(px, a.bottom); ctx.lineTo(px, a.bottom - 6);
        ctx.moveTo(px, a.top); ctx.lineTo(px, a.top + 6);
      }
    });
    const yt = o.log
      ? LOG_MAJOR.map(v => [v, 6]).concat(LOG_MINOR.map(v => [v, 3]))
      : PHASE_TICKS.map(v => [v, 6]);
    yt.forEach(([v, len]) => {
      const py = y.getPixelForValue(v);
      ctx.moveTo(a.left, py); ctx.lineTo(a.left + len, py);
      ctx.moveTo(a.right, py); ctx.lineTo(a.right - len, py);
    });
    ctx.stroke();
    ctx.lineWidth = 1.5;
    ctx.strokeRect(a.left, a.top, a.right - a.left, a.bottom - a.top);
    if (o.thickTop) {
      ctx.lineWidth = 3.5;
      ctx.beginPath(); ctx.moveTo(a.left - 1, a.top); ctx.lineTo(a.right + 1, a.top); ctx.stroke();
    }
    if (o.log) {
      ctx.fillStyle = '#111';
      ctx.textBaseline = 'alphabetic';
      LOG_MAJOR.forEach((v, i) => {
        const py = y.getPixelForValue(v);
        ctx.textAlign = 'right';
        ctx.font = "21px 'Liberation Sans', Arial, sans-serif";
        ctx.fillText('10', a.left - 27, py + 10.5);
        ctx.textAlign = 'left';
        ctx.font = "14px 'Liberation Sans', Arial, sans-serif";
        ctx.fillText(LOG_MAJOR_LABELS[i], a.left - 25, py - 4);
      });
    }
    ctx.restore();
  }
};

function makeChart(id, box, line, dots, log, thickTop) {
  const padL = 120, padT = 30, padR = 20, padB = 50;
  const cv = document.getElementById(id);
  const W = box.r - box.l + padL + padR, H = box.b - box.t + padT + padB;
  cv.width = W; cv.height = H;
  cv.style.left = (box.l - padL) + 'px'; cv.style.top = (box.t - padT) + 'px';
  cv.style.width = W + 'px'; cv.style.height = H + 'px';
  const yScale = log ? {
    type: 'logarithmic', min: 0.1, max: 20,
    afterFit(s) { s.width = padL; },
    ticks: {display: false},
    grid: {display: false, drawTicks: false}, border: {display: false}
  } : {
    type: 'linear', min: -Math.PI, max: Math.PI,
    afterFit(s) { s.width = padL; },
    afterBuildTicks(s) { s.ticks = PHASE_TICKS.map(v => ({value: v})); },
    ticks: {padding: 8, callback: v => (v < 0 ? '\u2212' + Math.abs(v) : String(v))},
    grid: {display: false, drawTicks: false}, border: {display: false}
  };
  return new Chart(cv, {
    type: 'scatter',
    data: {datasets: [
      {type: 'line', data: toXY(line), borderColor: RED, borderWidth: 1.5, pointRadius: 0, fill: false, tension: 0, order: 0},
      {type: 'scatter', data: toXY(dots), pointRadius: 2.1, backgroundColor: BLUE, borderWidth: 0, order: 1}
    ]},
    options: {
      responsive: false, animation: false, devicePixelRatio: 1, events: [],
      layout: {padding: {left: 0, top: padT, right: padR, bottom: 0}},
      plugins: {legend: {display: false}, tooltip: {enabled: false}, frame: {log: log, thickTop: thickTop}},
      scales: {
        x: {
          type: 'linear', min: 0, max: 1,
          afterFit(s) { s.height = padB; },
          afterBuildTicks(s) { s.ticks = X_TICKS.map(v => ({value: v})); },
          ticks: {padding: 8, maxRotation: 0, callback: v => String(v)},
          grid: {display: false, drawTicks: false}, border: {display: false}
        },
        y: yScale
      }
    },
    plugins: [framePlugin]
  });
}

makeChart('c1', {l: 121, r: 598, t: 49, b: 318}, TL_LINE, TL_DOTS, true, true);
makeChart('c2', {l: 773, r: 1252, t: 50, b: 320}, TR_LINE, TR_DOTS, false, false);
makeChart('c3', {l: 121, r: 599, t: 418, b: 687}, BL_LINE, BL_DOTS, true, false);
makeChart('c4', {l: 773, r: 1254, t: 418, b: 688}, BR_LINE, BR_DOTS, false, false);
</script>
</body></html>
